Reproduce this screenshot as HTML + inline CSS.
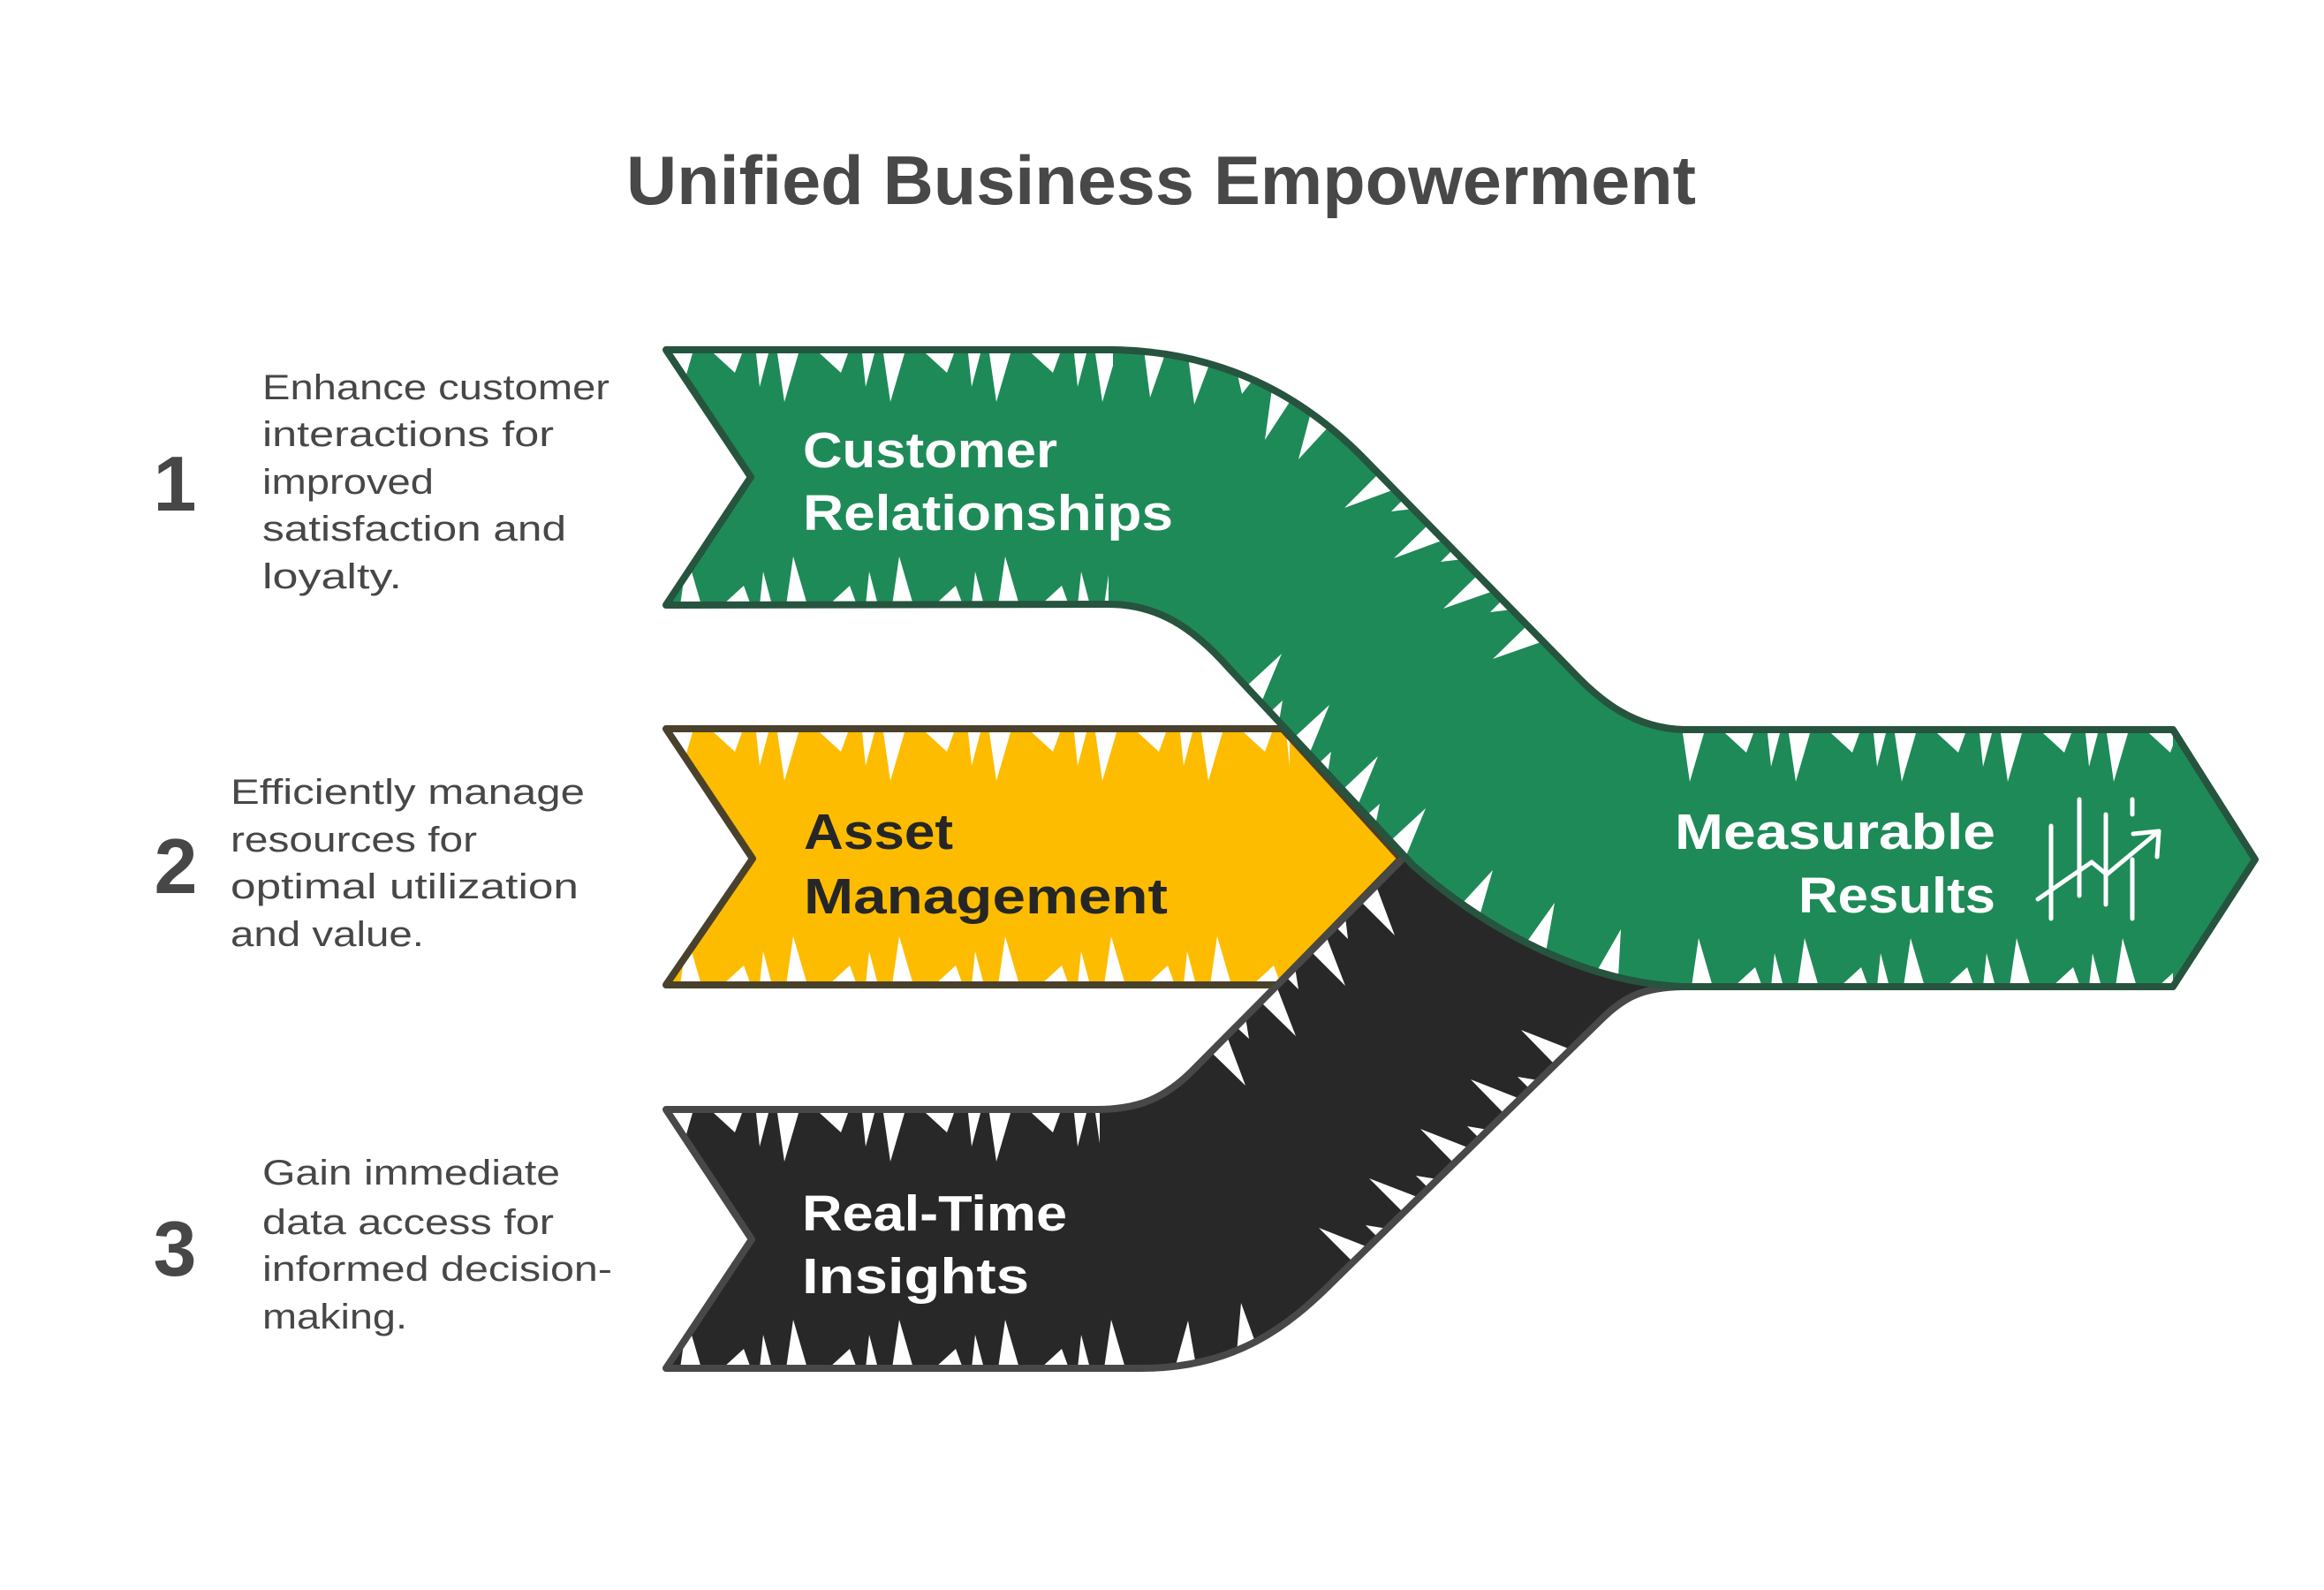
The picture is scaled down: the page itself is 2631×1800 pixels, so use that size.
<!DOCTYPE html>
<html>
<head>
<meta charset="utf-8">
<style>
  html, body { margin:0; padding:0; background:#ffffff; }
  body { width:2631px; height:1800px; overflow:hidden; }
  svg { display:block; }
  text { font-family: "Liberation Sans", "DejaVu Sans", sans-serif; }
</style>
</head>
<body>
<svg width="2631" height="1800" viewBox="0 0 2631 1800" xmlns="http://www.w3.org/2000/svg">
  <defs>
    <pattern id="hTop" patternUnits="userSpaceOnUse" width="120" height="90">
      <polygon points="0,0 24,0 8,55" fill="#ffffff"/>
      <polygon points="48,0 80,0 72,22" fill="#ffffff"/>
      <polygon points="96,0 110,0 100,38" fill="#ffffff"/>
    </pattern>
    <pattern id="hBot" patternUnits="userSpaceOnUse" width="120" height="90">
      <polygon points="10,90 34,90 18,35" fill="#ffffff"/>
      <polygon points="58,90 90,90 82,68" fill="#ffffff"/>
      <polygon points="100,90 114,90 104,52" fill="#ffffff"/>
    </pattern>
    <clipPath id="cY"><path d="M754,825 L1452,825 L1586,972 L1446,1115 L754,1115 L852,972 Z"/></clipPath>
    <clipPath id="cB"><path d="M754,1256 L1242,1256 C1290,1256 1320,1242 1350,1212 L1600,960 L1760,1040 L1905,1117 C1860,1118 1840,1128 1815,1152 L1510,1450 C1460,1500 1400,1549 1291,1549 L754,1549 L851,1403 Z"/></clipPath>
    <clipPath id="cG"><path d="M754,396 L1261,396 C1380,398 1470,445 1540,515 L1780,760 C1810,792 1850,826 1910,826 L2460,826 L2553,973 L2460,1117 L1905,1117 C1790,1112 1680,1050 1600,980 L1390,755 C1350,710 1310,684 1255,684 L754,685 L850,540 Z"/></clipPath>
  </defs>

  <!-- Title -->
  <text x="709" y="231" font-size="78" font-weight="bold" fill="#484848" textLength="1211" lengthAdjust="spacingAndGlyphs">Unified Business Empowerment</text>

  <!-- Yellow arrow -->
  <path d="M754,825 L1452,825 L1586,972 L1446,1115 L754,1115 L852,972 Z" fill="#FDBC00"/>
  <g clip-path="url(#cY)">
    <g transform="translate(760,829)"><rect width="700" height="90" fill="url(#hTop)"/></g>
    <g transform="translate(760,1025)"><rect width="690" height="90" fill="url(#hBot)"/></g>
  </g>
  <path d="M754,825 L1452,825 L1586,972 L1446,1115 L754,1115 L852,972 Z" fill="none" stroke="#4A412D" stroke-width="8" stroke-linejoin="round" stroke-linecap="round"/>

  <!-- Black arrow -->
  <path d="M754,1256 L1242,1256 C1290,1256 1320,1242 1350,1212 L1600,960 L1760,1040 L1905,1117 C1860,1118 1840,1128 1815,1152 L1510,1450 C1460,1500 1400,1549 1291,1549 L754,1549 L851,1403 Z" fill="#282828"/>
  <g clip-path="url(#cB)">
    <g transform="translate(760,1260)"><rect width="485" height="90" fill="url(#hTop)"/></g>
    <g transform="translate(760,1459)"><rect width="535" height="90" fill="url(#hBot)"/></g>
    <g fill="#ffffff">
      <!-- upper diagonal -->
      <polygon points="1371,1191 1389,1173 1410,1229"/>
      <polygon points="1399,1162 1410,1152 1414,1176"/>
      <polygon points="1427,1134 1445,1116 1467,1173"/>
      <polygon points="1456,1106 1466,1095 1470,1120"/>
      <polygon points="1484,1077 1501,1059 1523,1116"/>
      <polygon points="1512,1049 1523,1038 1526,1063"/>
      <polygon points="1540,1020 1558,1003 1579,1059"/>
      <!-- lower diagonal -->
      <polygon points="1532,1429 1549,1412 1493,1390"/>
      <polygon points="1560,1401 1571,1391 1546,1387"/>
      <polygon points="1589,1373 1607,1356 1550,1334"/>
      <polygon points="1617,1345 1628,1335 1603,1331"/>
      <polygon points="1646,1317 1664,1300 1608,1278"/>
      <polygon points="1675,1289 1685,1279 1661,1275"/>
      <polygon points="1703,1261 1721,1244 1665,1222"/>
      <polygon points="1732,1233 1742,1223 1718,1219"/>
      <polygon points="1760,1205 1778,1188 1722,1166"/>
      <!-- bottom curve -->
      <polygon points="1330,1549 1354,1546 1345,1495"/>
      <polygon points="1400,1532 1422,1522 1405,1475"/>
    </g>
  </g>
  <path d="M754,1256 L1242,1256 C1290,1256 1320,1242 1350,1212 L1600,960 L1760,1040 L1905,1117 C1860,1118 1840,1128 1815,1152 L1510,1450 C1460,1500 1400,1549 1291,1549 L754,1549 L851,1403 Z" fill="none" stroke="#484848" stroke-width="8" stroke-linejoin="round" stroke-linecap="round"/>

  <!-- Green arrow -->
  <path d="M754,396 L1261,396 C1380,398 1470,445 1540,515 L1780,760 C1810,792 1850,826 1910,826 L2460,826 L2553,973 L2460,1117 L1905,1117 C1790,1112 1680,1050 1600,980 L1390,755 C1350,710 1310,684 1255,684 L754,685 L850,540 Z" fill="#1E8A58"/>
  <g clip-path="url(#cG)">
    <g transform="translate(760,400)"><rect width="500" height="90" fill="url(#hTop)"/></g>
    <g transform="translate(1905,830)"><rect width="555" height="90" fill="url(#hTop)"/></g>
    <g transform="translate(1905,1027)"><rect width="555" height="90" fill="url(#hBot)"/></g>
    <g transform="translate(760,595)"><rect width="495" height="90" fill="url(#hBot)"/></g>
    <g fill="#ffffff">
      <!-- top curve -->
      <polygon points="1295,396 1320,398 1302,450"/>
      <polygon points="1345,403 1370,410 1352,458"/>
      <polygon points="1400,420 1420,428 1406,446"/>
      <polygon points="1440,440 1462,452 1432,498"/>
      <polygon points="1484,467 1505,482 1470,520"/>
      <!-- top diagonal -->
      <polygon points="1561,536 1579,554 1522,575"/>
      <polygon points="1589,565 1600,576 1575,579"/>
      <polygon points="1617,594 1635,611 1578,632"/>
      <polygon points="1645,622 1656,633 1631,636"/>
      <polygon points="1673,651 1691,669 1634,689"/>
      <polygon points="1701,679 1712,690 1687,693"/>
      <polygon points="1729,708 1747,726 1690,746"/>
      <!-- bottom diagonal -->
      <polygon points="1411,777 1428,795 1451,740"/>
      <polygon points="1438,806 1448,817 1452,793"/>
      <polygon points="1465,835 1482,854 1505,798"/>
      <polygon points="1492,865 1503,876 1507,851"/>
      <polygon points="1520,894 1537,912 1560,856"/>
      <polygon points="1547,923 1557,934 1562,910"/>
      <polygon points="1574,952 1591,971 1614,915"/>
      <!-- bottom curve -->
      <polygon points="1655,1023 1675,1037 1690,985"/>
      <polygon points="1728,1067 1750,1078 1760,1022"/>
      <polygon points="1808,1099 1832,1107 1835,1052"/>
    </g>
  </g>
  <path d="M754,396 L1261,396 C1380,398 1470,445 1540,515 L1780,760 C1810,792 1850,826 1910,826 L2460,826 L2553,973 L2460,1117 L1905,1117 C1790,1112 1680,1050 1600,980 L1390,755 C1350,710 1310,684 1255,684 L754,685 L850,540 Z" fill="none" stroke="#26543E" stroke-width="8" stroke-linejoin="round" stroke-linecap="round"/>

  <!-- Arrow labels -->
  <text x="909" y="529" font-size="57" font-weight="bold" fill="#ffffff" textLength="288" lengthAdjust="spacingAndGlyphs">Customer</text>
  <text x="909" y="600" font-size="57" font-weight="bold" fill="#ffffff" textLength="419" lengthAdjust="spacingAndGlyphs">Relationships</text>

  <text x="910" y="961" font-size="57" font-weight="bold" fill="#262626" textLength="169" lengthAdjust="spacingAndGlyphs">Asset</text>
  <text x="910" y="1034" font-size="57" font-weight="bold" fill="#262626" textLength="412" lengthAdjust="spacingAndGlyphs">Management</text>

  <text x="908" y="1393" font-size="57" font-weight="bold" fill="#ffffff" textLength="300" lengthAdjust="spacingAndGlyphs">Real-Time</text>
  <text x="908" y="1464" font-size="57" font-weight="bold" fill="#ffffff" textLength="257" lengthAdjust="spacingAndGlyphs">Insights</text>

  <text x="1896" y="961" font-size="57" font-weight="bold" fill="#ffffff" textLength="363" lengthAdjust="spacingAndGlyphs">Measurable</text>
  <text x="2036" y="1033" font-size="57" font-weight="bold" fill="#ffffff" textLength="223" lengthAdjust="spacingAndGlyphs">Results</text>

  <!-- Chart icon -->
  <g stroke="#ffffff" stroke-width="5" stroke-linecap="round" stroke-linejoin="round" fill="none">
    <line x1="2322" y1="935" x2="2322" y2="1040"/>
    <line x1="2354" y1="905" x2="2354" y2="1014"/>
    <line x1="2384" y1="922" x2="2384" y2="1024"/>
    <line x1="2414" y1="905" x2="2414" y2="922"/>
    <line x1="2414" y1="973" x2="2414" y2="1040"/>
    <polyline points="2307,1018 2368,976 2385,990 2444,941"/>
    <polyline points="2415,944 2444,941 2442,970"/>
  </g>

  <!-- Numbers -->
  <text x="198" y="578" font-size="88" font-weight="bold" fill="#474747" text-anchor="middle">1</text>
  <text x="199" y="1011" font-size="88" font-weight="bold" fill="#474747" text-anchor="middle">2</text>
  <text x="198" y="1444" font-size="88" font-weight="bold" fill="#474747" text-anchor="middle">3</text>

  <!-- Descriptions -->
  <g font-size="40" fill="#474747">
    <text x="297" y="452" textLength="393" lengthAdjust="spacingAndGlyphs">Enhance customer</text>
    <text x="297" y="505" textLength="330" lengthAdjust="spacingAndGlyphs">interactions for</text>
    <text x="297" y="559" textLength="194" lengthAdjust="spacingAndGlyphs">improved</text>
    <text x="297" y="612" textLength="344" lengthAdjust="spacingAndGlyphs">satisfaction and</text>
    <text x="297" y="666" textLength="158" lengthAdjust="spacingAndGlyphs">loyalty.</text>

    <text x="261" y="910" textLength="401" lengthAdjust="spacingAndGlyphs">Efficiently manage</text>
    <text x="261" y="964" textLength="279" lengthAdjust="spacingAndGlyphs">resources for</text>
    <text x="261" y="1017" textLength="394" lengthAdjust="spacingAndGlyphs">optimal utilization</text>
    <text x="261" y="1071" textLength="219" lengthAdjust="spacingAndGlyphs">and value.</text>

    <text x="297" y="1341" textLength="337" lengthAdjust="spacingAndGlyphs">Gain immediate</text>
    <text x="297" y="1397" textLength="330" lengthAdjust="spacingAndGlyphs">data access for</text>
    <text x="297" y="1450" textLength="396" lengthAdjust="spacingAndGlyphs">informed decision-</text>
    <text x="297" y="1504" textLength="164" lengthAdjust="spacingAndGlyphs">making.</text>
  </g>
</svg>
</body>
</html>
